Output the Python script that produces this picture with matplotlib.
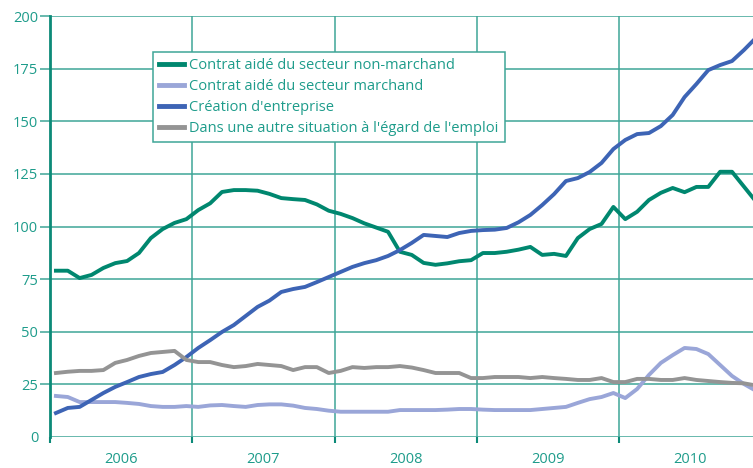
import matplotlib
matplotlib.use("Agg")
import matplotlib.pyplot as plt
import numpy as np

years = ["2006", "2007", "2008", "2009", "2010"]
series_names = [
    "Contrat aidé du secteur non-marchand",
    "Contrat aidé du secteur marchand",
    "Création d'entreprise",
    "Dans une autre situation à l'égard de l'emploi",
]

non_marchand = [79, 79, 75.5, 77, 80.3, 82.6, 83.6, 87.4, 94.5, 98.8, 101.7, 103.5,
                107.8, 111, 116.4, 117.3, 117.3, 117, 115.5, 113.5, 113, 112.6, 110.5, 107.5,
                106, 104, 101.5, 99.5, 97.5, 88, 86.5, 82.7, 81.8, 82.5, 83.5, 84,
                87.4, 87.4, 88, 89, 90.3, 86.5, 87, 86, 94.5, 98.8, 101.2, 109.3,
                103.5, 107, 112.6, 116, 118.3, 116.3, 118.8, 118.8, 126, 126, 119, 112]

marchand = [19.5, 19, 16.6, 16.6, 16.6, 16.6, 16.2, 15.7, 14.7, 14.3, 14.3, 14.7,
            14.3, 15, 15.2, 14.7, 14.3, 15.2, 15.5, 15.5, 14.9, 13.8, 13.3, 12.5,
            12, 12, 12, 12, 12, 12.8, 12.8, 12.8, 12.8, 13, 13.3, 13.3,
            13, 12.8, 12.8, 12.8, 12.8, 13.3, 13.8, 14.3, 16.2, 18, 19, 20.9,
            18.5, 22.8, 29.5, 35.2, 38.9, 42.3, 41.8, 39.4, 34.2, 29, 25.2, 22]

entreprise = [11.4, 13.8, 14.3, 17.6, 20.9, 23.8, 26.1, 28.5, 29.9, 30.9, 34.2, 38,
              42.3, 46, 49.9, 53.2, 57.5, 61.8, 64.8, 68.9, 70.3, 71.3, 73.6, 76,
              78.4, 80.8, 82.6, 84, 86, 88.8, 92.2, 96, 95.5, 95, 96.9, 97.9,
              98.3, 98.5, 99.3, 102, 105.5, 110.2, 115.4, 121.6, 123, 125.9, 130.2, 136.8,
              141.1, 143.9, 144.4, 147.7, 153, 161.5, 167.7, 174.3, 176.7, 178.6, 183.8, 189.5]

autre = [30.4, 31, 31.4, 31.4, 31.8, 35.2, 36.6, 38.5, 39.9, 40.4, 40.9, 36.6,
         35.6, 35.6, 34.2, 33.2, 33.7, 34.7, 34.2, 33.7, 31.8, 33.2, 33.2, 30.4,
         31.4, 33.2, 32.8, 33.2, 33.2, 33.7, 33, 31.8, 30.4, 30.4, 30.4, 28,
         28, 28.5, 28.5, 28.5, 28, 28.5, 28, 27.6, 27.1, 27.1, 28, 26.1,
         26.1, 27.6, 27.6, 27.1, 27.1, 28, 27.1, 26.6, 26.1, 25.7, 25.5, 24.5]

yticks = [0, 25, 50, 75, 100, 125, 150, 175, 200]

colors = ["#00876f", "#9aa6d8", "#3d64b5", "#949494"]
text_color = "#1e9c8b"
grid_color = "#3ea597"
spine_color = "#0c8a78"

plt.rcParams['font.family'] = ['Open Sans', 'DejaVu Sans']

fig = plt.figure(figsize=(7.53, 4.68), dpi=100)
ax = fig.add_axes([50/753, 31/468, 703/753, 421/468])

x = np.arange(len(entreprise))
all_series = [non_marchand, marchand, entreprise, autre]
for vals, col, name in zip(all_series, colors, series_names):
    ax.plot(x, vals, color=col, lw=2.8, label=name, solid_joinstyle='round', zorder=3)

ax.set_xlim(-0.5, 58.77)
ax.set_ylim(0, 200)

for yv in yticks:
    ax.axhline(yv, color=grid_color, lw=1.1, zorder=1)
bounds = [11.5 + 12 * k for k in range(4)]
for b in bounds:
    ax.axvline(b, color=grid_color, lw=1.1, zorder=1)

ax.set_yticks(yticks)
ax.set_yticklabels([str(v) for v in yticks], color=text_color, fontsize=10.5)
ax.tick_params(axis='y', length=7, width=1.1, color=grid_color, pad=1.5)
ax.get_yticklines()[0].set_visible(False)

ax.set_xticks([-0.5] + bounds)
ax.set_xticklabels([])
ax.tick_params(axis='x', length=4, width=1.5, color=spine_color)
for k, yr in enumerate(years):
    ax.text(5.5 + 12 * k, -0.054, yr, transform=ax.get_xaxis_transform(),
            ha='center', va='center', color=text_color, fontsize=10.5)

for s in ['top', 'right', 'bottom']:
    ax.spines[s].set_visible(False)
ax.spines['left'].set_color(spine_color)
ax.spines['left'].set_linewidth(2)
ax.spines['left'].set_zorder(4)

leg = ax.legend(loc='upper left', bbox_to_anchor=((153-50)/703, (437-52)/421),
                borderaxespad=0, fontsize=10.5, frameon=True, fancybox=False,
                handlelength=1.7, handletextpad=0.4, labelspacing=0.42,
                borderpad=0.4)
leg.get_frame().set_edgecolor(grid_color)
leg.get_frame().set_linewidth(1.1)
leg.get_frame().set_facecolor('white')
leg.get_frame().set_alpha(1)
leg.set_zorder(5)
for t in leg.get_texts():
    t.set_color(text_color)
for h in leg.get_lines():
    h.set_linewidth(3.5)

fig.savefig("out.png", dpi=100)
